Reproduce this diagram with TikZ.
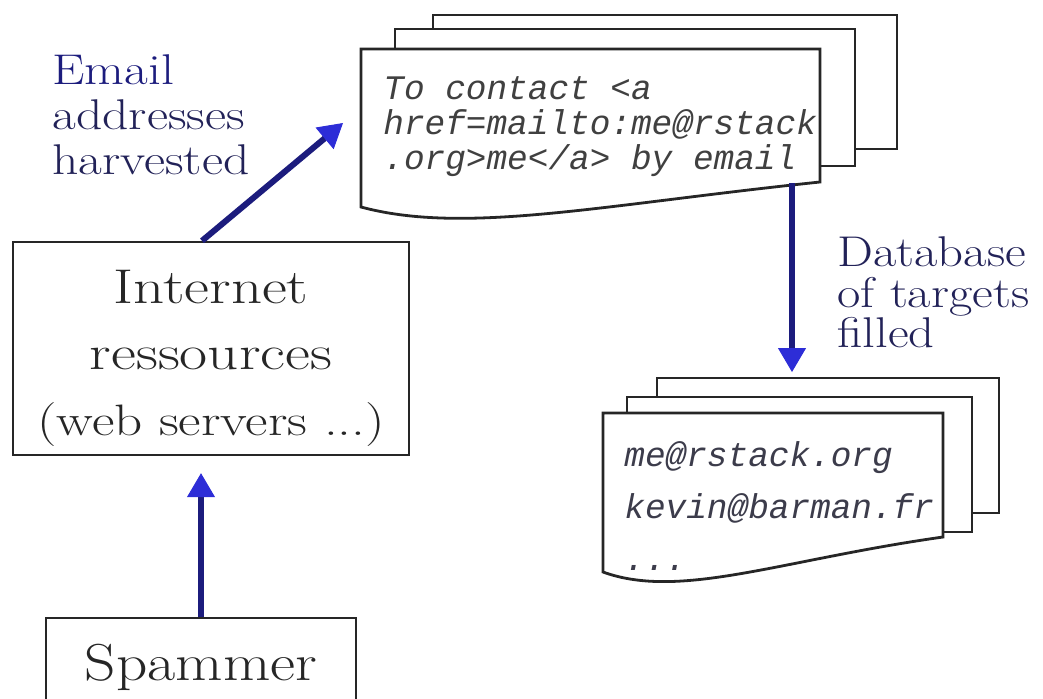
\documentclass[tikz,border=0pt]{standalone}
\usepackage{fontspec}
\usetikzlibrary{arrows.meta,positioning}
\newfontfamily\codefont{Liberation Mono}
\definecolor{linkblue}{RGB}{28,28,125}
\definecolor{tipblue}{RGB}{45,45,215}
\definecolor{labelblue}{RGB}{34,34,88}
\definecolor{codegray}{RGB}{60,60,75}
\newcommand{\stretchx}[2][1.2]{\scalebox{#1}[1]{#2}}

\begin{document}
\begin{tikzpicture}[x=0.5pt,y=-0.5pt,
                    link/.style={draw=linkblue,line width=3pt,
                      -{Triangle[length=12pt,width=14pt,line width=0.5pt,color=tipblue]}}]
  \tikzstyle{box}=[draw=black!85,line width=1.2pt,text=black!85,align=center]
  \tikzstyle{page}=[draw=black!85,fill=white,line width=1.4pt]
  \tikzstyle{code}=[inner sep=0pt,align=left,text=codegray]
  \tikzstyle{caption}=[inner sep=0pt,align=left,text=labelblue,
                       font=\fontsize{21.5}{22.5}\selectfont]

  \useasboundingbox (0,0) rectangle (1043,698);

  \node[box,anchor=north,minimum width=155pt,inner ysep=13.2pt,text depth=14pt,
        font=\fontsize{26}{30}\selectfont] (spam) at (201,617) {\stretchx[1.18]{Spammer}};
  \node[box,minimum width=198pt,minimum height=106.5pt,inner sep=0pt,
        font=\fontsize{24.4}{33}\selectfont] (inet) at (211,348.5)
        {\rule{0pt}{26pt}\stretchx[1.25]{Internet}\\
         \stretchx[1.25]{ressources}\\
         {\fontsize{22}{33}\selectfont\stretchx[1.25]{(web servers ...)}}};

  % harvested page stack
  \draw[page] (433,15) rectangle (897,149);
  \draw[page] (395,29) rectangle (855,166);
  \draw[page] (361,49) -- (820,49) -- (820,182)
              .. controls (600,205) and (465,235) .. (361,207) -- cycle;
  \node[code,anchor=west,font=\codefont\itshape\fontsize{17.2}{17.5}\selectfont,text=black!75]
        (mailtext) at (383,126.8)
        {To contact <a\\href=mailto:me@rstack\\.org>me</a> by email};

  % target database stack
  \draw[page] (657,378) rectangle (999,513);
  \draw[page] (627,397) rectangle (972,532);
  \draw[page] (603,413) -- (943,413) -- (943,537)
              .. controls (780,560) and (680,600) .. (603,572) -- cycle;
  \node[code,anchor=west,font=\codefont\itshape\fontsize{17.2}{26}\selectfont]
        (dbtext) at (624,506.5)
        {me@rstack.org\\kevin@barman.fr\\...};

  \node[caption,anchor=west] (harvlabel) at (52,115)
        {\textcolor{linkblue}{\stretchx{Email}}\\\stretchx{addresses}\\\stretchx{harvested}};
  \node[caption,anchor=west,font=\fontsize{21.5}{20.25}\selectfont] (dblabel) at (837,292.5)
        {\stretchx[1.18]{Database}\\\stretchx[1.18]{of targets}\\\stretchx[1.18]{filled}};

  \coordinate (harvest) at (343,123);
  \coordinate (mail bottom) at (792,183);
  \coordinate (db top) at (792,372);

  \draw[link,shorten >=8.5pt] (spam.north) -- (spam.north |- inet.south);
  \draw[link] ([xshift=-4.5pt]inet.north) -- (harvest);
  \draw[link] (mail bottom) -- (db top);
\end{tikzpicture}
\end{document}
